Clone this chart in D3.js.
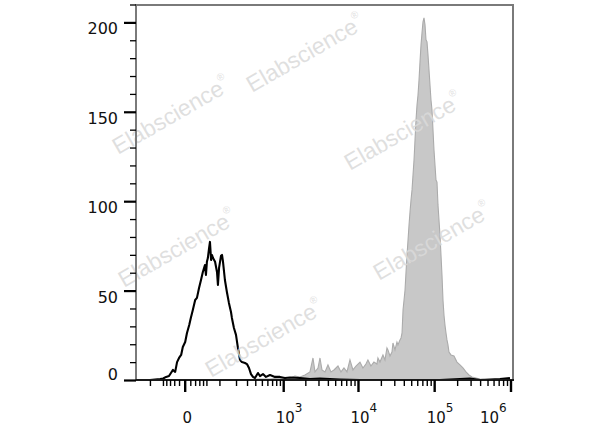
<!DOCTYPE html>
<html>
<head>
<meta charset="utf-8">
<script src="https://cdn.jsdelivr.net/npm/d3@7"></script>
<style>
  html, body { margin: 0; padding: 0; background: #fff; }
  svg { display: block; }
</style>
</head>
<body>
<svg id="chart" width="600" height="427"></svg>
<script>
// ---------- data ----------
// Control (unstained) histogram: bin position (fluorescence) and count
const ctrlX = [-157,-102,-80,-61,-51,-42,-34,-29,-24,-19,-15,-11,-7,-4,0,3,7,10,14,19,23,28,33,38,44,47,50,53,57,60,64,67,71,79,87,91,96,105,110,115,125,136,148,161,167,181,196,211,228,245,274,294,316,339,363,389,431,461,510,564,643,756,888,1041,1219,1668,2273,3094,4200,5700,10460,35090,117200,290000,392000,716600,968700];
const ctrlY = [0.3,0.3,0.6,0.8,1.1,2,2.5,4.2,5.9,4.8,10.3,12.6,14.3,18.7,21.5,26.6,31,35,39.4,45,46.2,51.7,56.2,60.7,64.6,59,66.4,68.5,74,77.5,67.4,70.2,68.5,66.4,60.7,53.4,63,69.7,70.2,66.4,56.2,49.5,43.4,38.3,35,29.4,25.5,18.2,11.5,10.3,9.8,9.2,7,3.6,2,1.4,4.2,2.5,3.6,2,3.1,2,2,1.4,1.7,1.4,0.8,1.1,0.8,0.6,0.3,0.3,0.3,1.1,0.3,0.8,1.4];

// Stained histogram (grey filled)
const stainX = [-157,0,100,327,461,643,888,1219,1427,1668,1948,2273,2495,2655,2911,3094,3290,3607,3951,4330,4745,5363,5875,6436,7050,7720,8457,9266,10460,11440,12530,13310,14570,15960,17480,18020,19160,20980,22290,23680,24400,25930,27550,28390,30160,32030,33010,35100,36230,37340,38480,39660,40870,42120,43410,44740,46110,47520,48980,50480,52020,53610,55250,56950,58690,60480,62340,64240,66210,68240,70320,72480,74700,76980,79340,81760,84270,86850,89500,92240,95070,97980,100980,104070,107250,110530,113920,117400,121000,124700,128520,132450,136500,140680,144990,149420,154000,163570,179060,196000,214550,234860,257090,281430,308060,347500,392000,530000,968700];
const stainY = [0.2,0.3,0.4,0.6,0.8,0.8,1.4,1.4,2.5,2,3.1,4.8,12.6,4.8,7,12.6,5.9,4.8,8.7,4.8,5.9,8.1,4.8,7,4.8,11.5,5.9,8.1,10.3,7,9.2,11.5,8.1,10.3,9.2,12.6,10.3,14.3,11.5,18.2,17.1,13.7,15.9,21,17.1,21.5,19.9,22.7,23.8,26.6,39.4,45,50.6,60.7,70.2,78.6,87,94.3,101,106.6,115,123.3,134.5,145.7,154.1,159.7,168.1,178.2,187.7,194.4,200.6,202.8,198.9,190.5,189.4,182.1,173.7,165.3,156.9,151.3,140.1,128.9,120.5,112.1,111,98.2,89.8,81.4,70.2,59,45,36.6,31,26.6,22.7,19.9,15.9,14.3,13.7,10.3,8.7,7,4.8,3.1,2,1.4,0.8,0.3,0.3];

// Axis ticks
const yMajorTicks = [0, 50, 100, 150, 200];
const yMinorTicks = [10,20,30,40,60,70,80,90,110,120,130,140,160,170,180,190,210];
const xMajorTicks = [0, 1e3, 1e4, 1e5, 1e6];
const xLabelBase = ["0", "10", "10", "10", "10"];
const xLabelExp  = ["", "3", "4", "5", "6"];
const xMinorTicks = [-100,-50,-40,-30,-20,-10,10,20,30,40,50,100,200,300,400,500,600,700,800,900,
  2000,3000,4000,5000,6000,7000,8000,9000,
  20000,30000,40000,50000,60000,70000,80000,90000,
  200000,300000,400000,500000,600000,700000,800000,900000];

const watermarkText = "Elabscience";

// ---------- layout ----------
const svg = d3.select("#chart");
const pL = 136, pR = 513, pT = 5, pB = 380.5;

const x = d3.scaleSymlog().constant(54).domain([-184, 1e6]).range([pL, 511]);
const y = d3.scaleLinear().domain([0, 210]).range([pB, pT]);

svg.append("defs").append("clipPath").attr("id", "plotclip")
  .append("rect").attr("x", pL).attr("y", pT).attr("width", pR - pL).attr("height", pB - pT);

const plot = svg.append("g").attr("clip-path", "url(#plotclip)");

// stained (grey filled)
const stain = stainX.map((v, i) => [v, stainY[i]]);
plot.append("path")
  .datum(stain)
  .attr("d", d3.area().x(d => x(d[0])).y0(y(0)).y1(d => y(d[1])))
  .attr("fill", "#c8c8c8")
  .attr("stroke", "#ababab")
  .attr("stroke-width", 1.1);

// control (black line)
const ctrl = ctrlX.map((v, i) => [v, ctrlY[i]]);
plot.append("path")
  .datum(ctrl)
  .attr("d", d3.line().x(d => x(d[0])).y(d => y(d[1])))
  .attr("fill", "none")
  .attr("stroke", "#000")
  .attr("stroke-width", 2.1)
  .attr("stroke-linejoin", "round");

// watermarks
const wmPos = [[172, 117], [306, 55], [404, 133], [178, 250], [433, 243], [265, 340]];
const wm = svg.append("g");
wmPos.forEach(p => {
  const t = wm.append("text")
    .attr("transform", `translate(${p[0]},${p[1]}) rotate(-30)`)
    .attr("text-anchor", "middle")
    .attr("dominant-baseline", "middle")
    .attr("font-family", "Liberation Sans, Arial, sans-serif")
    .attr("font-size", 23)
    .attr("fill", "#dadada")
    .attr("fill-opacity", 0.85);
  t.append("tspan").text(watermarkText);
  t.append("tspan").attr("font-size", 10).attr("dy", -10).text("®");
});

// frame (top, right) and y axis line
svg.append("path")
  .attr("d", `M${pL},${pB} V${pT} H${pR} V${pB}`)
  .attr("fill", "none").attr("stroke", "#7a7a7a").attr("stroke-width", 2);

// x axis line
svg.append("line").attr("x1", pL).attr("x2", pR + 1).attr("y1", 380).attr("y2", 380)
  .attr("stroke", "#1a1a1a").attr("stroke-width", 2);

// y ticks
const yAxis = svg.append("g");
yAxis.selectAll(".ymaj").data(yMajorTicks).join("line")
  .attr("class", "ymaj")
  .attr("x1", 124).attr("x2", pL).attr("y1", d => y(d)).attr("y2", d => y(d))
  .attr("stroke", "#000").attr("stroke-width", 2.2);
yAxis.selectAll(".ymin").data(yMinorTicks).join("line")
  .attr("class", "ymin")
  .attr("x1", 130).attr("x2", pL).attr("y1", d => y(d)).attr("y2", d => y(d))
  .attr("stroke", "#000").attr("stroke-width", 1.3);
yAxis.selectAll(".ylab").data(yMajorTicks).join("text")
  .attr("class", "ylab")
  .attr("x", 118)
  .attr("y", d => d === 0 ? 380 : y(d) + 11.5)
  .attr("text-anchor", "end")
  .attr("font-family", "DejaVu Sans, Verdana, sans-serif")
  .attr("font-size", 16)
  .attr("fill", "#111")
  .text(d => d);

// x ticks
const xAxis = svg.append("g");
xAxis.selectAll(".xmin").data(xMinorTicks).join("line")
  .attr("class", "xmin")
  .attr("x1", d => x(d)).attr("x2", d => x(d)).attr("y1", 380).attr("y2", 386)
  .attr("stroke", "#000").attr("stroke-width", 1.4);
xAxis.selectAll(".xmaj").data(xMajorTicks).join("line")
  .attr("class", "xmaj")
  .attr("x1", d => x(d)).attr("x2", d => x(d)).attr("y1", 380).attr("y2", 392)
  .attr("stroke", "#000").attr("stroke-width", 2.4);

const xLab = xAxis.selectAll(".xlab").data(xMajorTicks).join("text")
  .attr("class", "xlab")
  .attr("font-family", "DejaVu Sans, Verdana, sans-serif")
  .attr("font-size", 15)
  .attr("fill", "#111")
  .attr("y", 423)
  .attr("x", (d, i) => i === 0 ? x(d) + 2 : (i === 4 ? x(d) - 31 : x(d) - 8))
  .attr("text-anchor", (d, i) => i === 0 ? "middle" : "start");
xLab.append("tspan").text((d, i) => xLabelBase[i]);
xLab.append("tspan").attr("font-size", 12).attr("dy", -11).text((d, i) => xLabelExp[i]);
</script>
</body>
</html>
